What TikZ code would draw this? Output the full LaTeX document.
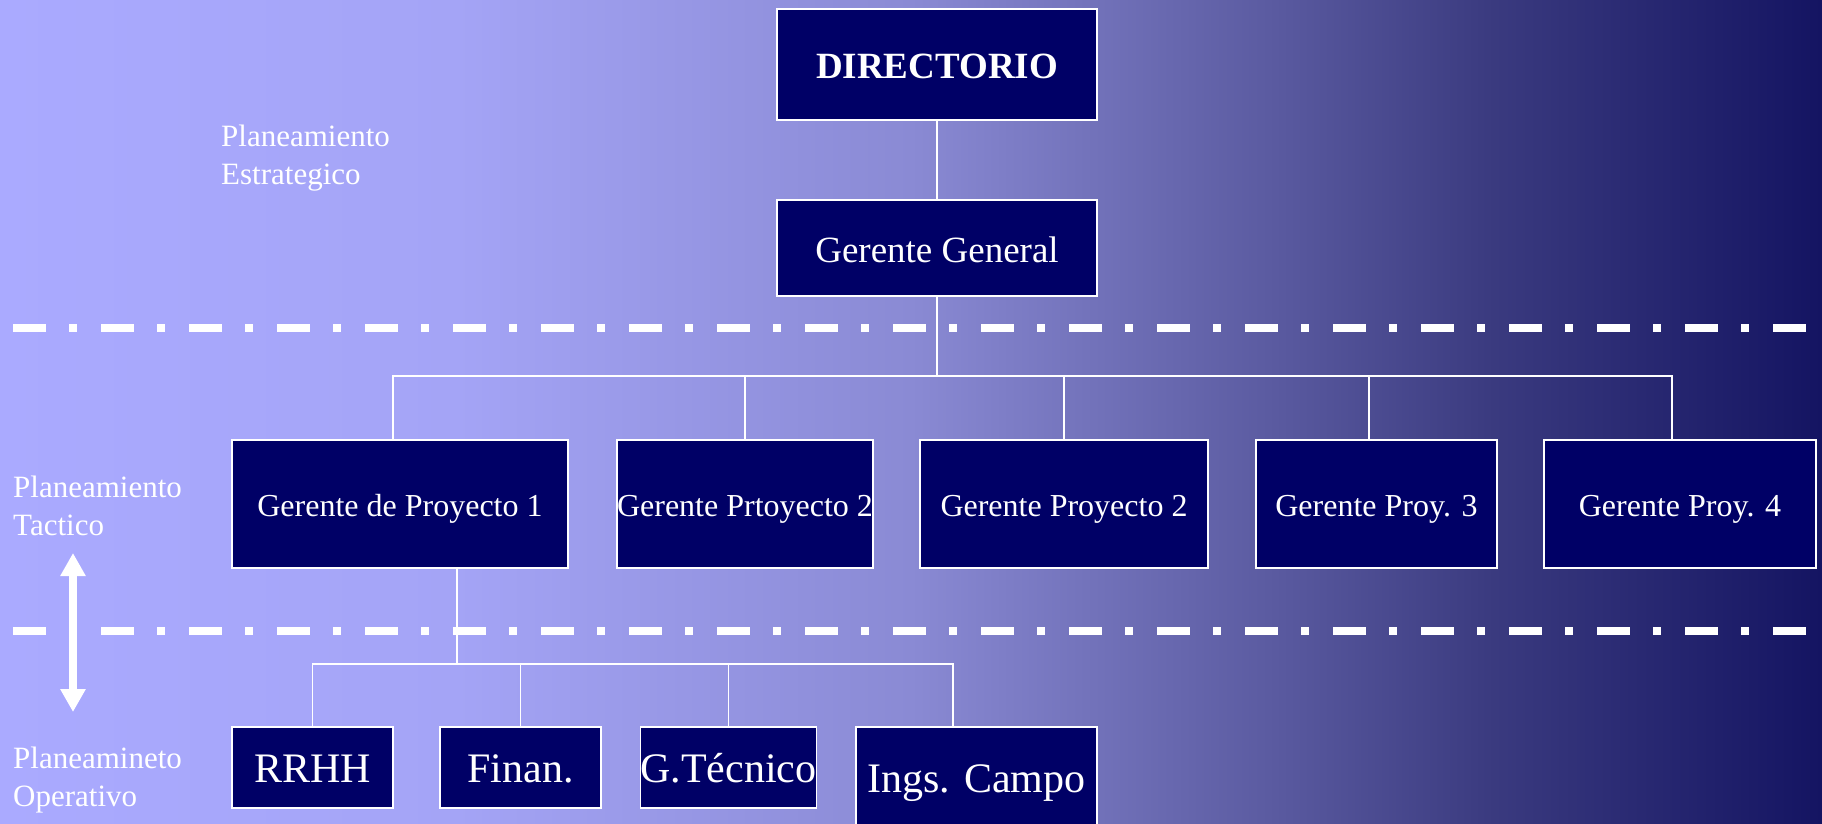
\documentclass[tikz,border=0pt]{standalone}
\usepackage{fontspec}
\setmainfont{Liberation Serif}
\usetikzlibrary{arrows.meta}

% background and box colours
\definecolor{bgA}{RGB}{170,170,255}
\definecolor{bgB}{RGB}{164,164,246}
\definecolor{bgC}{RGB}{138,138,212}
\definecolor{bgD}{RGB}{90,90,160}
\definecolor{bgE}{RGB}{58,58,127}
\definecolor{bgF}{RGB}{20,20,98}
\definecolor{boxnavy}{RGB}{0,0,102}

\pgfdeclarehorizontalshading{bgshade}{100bp}{%
  color(0bp)=(bgA); color(25bp)=(bgA); color(37.5bp)=(bgB);
  color(50bp)=(bgC); color(60bp)=(bgD); color(66bp)=(bgE);
  color(75bp)=(bgF); color(100bp)=(bgF)}

\tikzset{
  orgbox/.style={draw=white, line width=1.5pt, fill=boxnavy, text=white,
    inner sep=0pt, align=center, text depth=0pt},
  topfont/.style={font=\fontsize{37}{44}\selectfont, text height=28.5pt},
  midfont/.style={font=\fontsize{32}{38}\selectfont, text height=24.3pt},
  lowfont/.style={font=\fontsize{42}{50}\selectfont, text height=30.5pt},
  midbox/.style={orgbox, midfont, minimum height=128pt},
  lowbox/.style={orgbox, lowfont, minimum width=161pt, minimum height=81pt},
  link/.style={draw=white, line width=1.6pt},
  levelline/.style={draw=white, line width=8pt,
    dash pattern=on 33pt off 23pt on 8pt off 24pt},
  lvl/.style={text=white, anchor=base west, inner sep=0pt,
    font=\fontsize{31}{38}\selectfont},
}

\begin{document}
\begin{tikzpicture}[x=1pt,y=-1pt]
\path[use as bounding box] (0,0) rectangle (1822,823);
\clip (0,0) rectangle (1822,823);
\fill[shading=bgshade] (0,0) rectangle (1822,823);

% level separators
\draw[levelline] (13,328) -- (1808,328);
\draw[levelline] (13,630.5) -- (1808,630.5);

% upper management
\node[orgbox, topfont, font=\bfseries\fontsize{37}{44}\selectfont,
      minimum width=320pt, minimum height=111pt] (dir) at (937,64.5) {DIRECTORIO};
\node[orgbox, topfont, minimum width=320pt, minimum height=96pt] (gg) at (937,248) {Gerente General};

% project managers
\node[midbox, minimum width=336pt] (gp1)  at (400,504)    {Gerente de Proyecto 1};
\node[midbox, minimum width=256pt] (gp2)  at (745,504)    {Gerente Prtoyecto 2};
\node[midbox, minimum width=288pt] (gp2b) at (1064,504)   {Gerente Proyecto 2};
\node[midbox, minimum width=241pt] (gp3)  at (1376.5,504) {Gerente Proy. 3};
\node[midbox, minimum width=272pt] (gp4)  at (1680,504)   {Gerente Proy. 4};

% operational areas
\node[lowbox] (rrhh) at (312.5,767.5) {RRHH};
\node[lowbox] (fin)  at (520.5,767.5) {Finan.};
\node[lowbox] (gtec) at (728.5,767.5) {G.Técnico};
\node[lowbox, minimum width=241pt, minimum height=101pt] (ings) at (976.5,777.5) {Ings. Campo};

% connectors
\coordinate (j1) at (937,376);
\draw[link] (dir) -- (gg);
\draw[link] (gg) -- (j1);
\draw[link] (j1) -| ([xshift=-7pt]gp1.north);
\draw[link] (j1) -| (gp2.north);
\draw[link] (j1) -| (gp2b.north);
\draw[link] (j1) -| ([xshift=-7.5pt]gp3.north);
\draw[link] (j1) -| ([xshift=-8pt]gp4.north);

\coordinate (j2) at (457,664);
\draw[link] ([xshift=57pt]gp1.south) -- (j2);
\draw[link] (j2) -| (rrhh.north);
\draw[link] (j2) -| (fin.north);
\draw[link] (j2) -| (gtec.north);
\draw[link] (j2) -| ([xshift=-23.5pt]ings.north);

% planning levels
\node[lvl] (lest) at (221,146) {\parbox[t]{300pt}{Planeamiento\\Estrategico}};
\node[lvl] (ltac) at (13,497)  {\parbox[t]{300pt}{Planeamiento\\Tactico}};
\node[lvl] (lope) at (13,768)  {\parbox[t]{300pt}{Planeamineto\\Operativo}};

\coordinate (atop) at (73,553);
\coordinate (abot) at (73,712);
\draw[white, line width=8pt,
      {Triangle[width=24pt,length=23pt]}-{Triangle[width=24pt,length=23pt]}] (atop) -- (abot);
\end{tikzpicture}
\end{document}
